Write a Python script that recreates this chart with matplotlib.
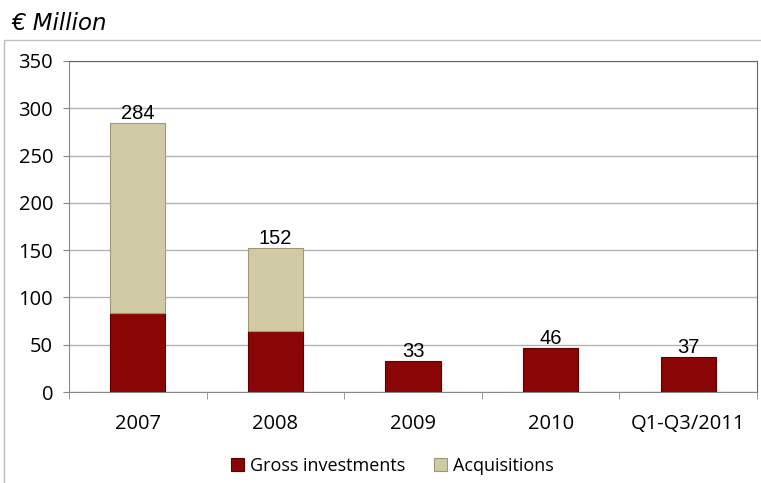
import matplotlib.pyplot as plt
from matplotlib.patches import Rectangle
import numpy as np

categories = ['2007', '2008', '2009', '2010', 'Q1-Q3/2011']
gross = [84, 64, 33, 46, 37]
acquisitions = [200, 88, 0, 0, 0]
totals = [284, 152, 33, 46, 37]

red = '#8a0606'
tan = '#d1cba5'

fig = plt.figure(figsize=(7.61, 4.83), dpi=100)
ax = fig.add_axes([69 / 761, 91 / 483, 688 / 761, 331 / 483])

# outer chart frame (left + top visible)
fig.patches.append(Rectangle((4 / 761, -0.01), 1.0, (483 - 40) / 483 + 0.01,
                             transform=fig.transFigure, fill=False,
                             edgecolor='#bdbdbd', linewidth=1))

x = np.arange(len(categories))
ax.bar(x, gross, width=0.4, color=red, edgecolor='#5e0000', linewidth=0.8,
       label='Gross investments', zorder=3)
acq = np.array(acquisitions)
mask = acq > 0
ax.bar(x[mask], acq[mask], width=0.4, bottom=np.array(gross)[mask], color=tan,
       edgecolor='#9e9878', linewidth=0.8, label='Acquisitions', zorder=3)

for xi, t in zip(x, totals):
    ax.text(xi, t, str(t), ha='center', va='bottom', fontsize=14.5,
            family='Liberation Sans', color='black')

ax.set_xlim(-0.5, len(categories) - 0.5)
ax.set_ylim(0, 350)
ax.set_yticks(range(0, 351, 50))
ax.yaxis.grid(True, color='#b3b3b3', linewidth=1, zorder=0)
ax.set_axisbelow(True)

ax.set_xticks(x)
ax.set_xticklabels(categories, family='Open Sans', fontsize=14.5)
ax.set_xticks(np.arange(len(categories) + 1) - 0.5, minor=True)
ax.tick_params(axis='x', which='major', length=0, pad=16)
ax.tick_params(axis='x', which='minor', length=5, color='#888888', direction='out')
ax.tick_params(axis='y', length=4.5, color='#888888', pad=7, labelsize=14.5)
for lab in ax.get_yticklabels():
    lab.set_family('Open Sans')

ax.spines['left'].set_color('#888888')
ax.spines['bottom'].set_color('#888888')
ax.spines['right'].set_color('#666666')
ax.spines['top'].set_color('#666666')

fig.text(11 / 761, 1 - 23 / 483, '€ Million', fontsize=16.5, style='italic',
         family='DejaVu Sans', va='center', ha='left')

ax.legend(loc='center', bbox_to_anchor=(392 / 761, 1 - 466 / 483),
          bbox_transform=fig.transFigure, ncol=2, frameon=False,
          prop={'family': 'Open Sans', 'size': 13}, handlelength=0.75,
          handleheight=0.75, handletextpad=0.3, columnspacing=1.6)

fig.savefig('out.png', dpi=100)
